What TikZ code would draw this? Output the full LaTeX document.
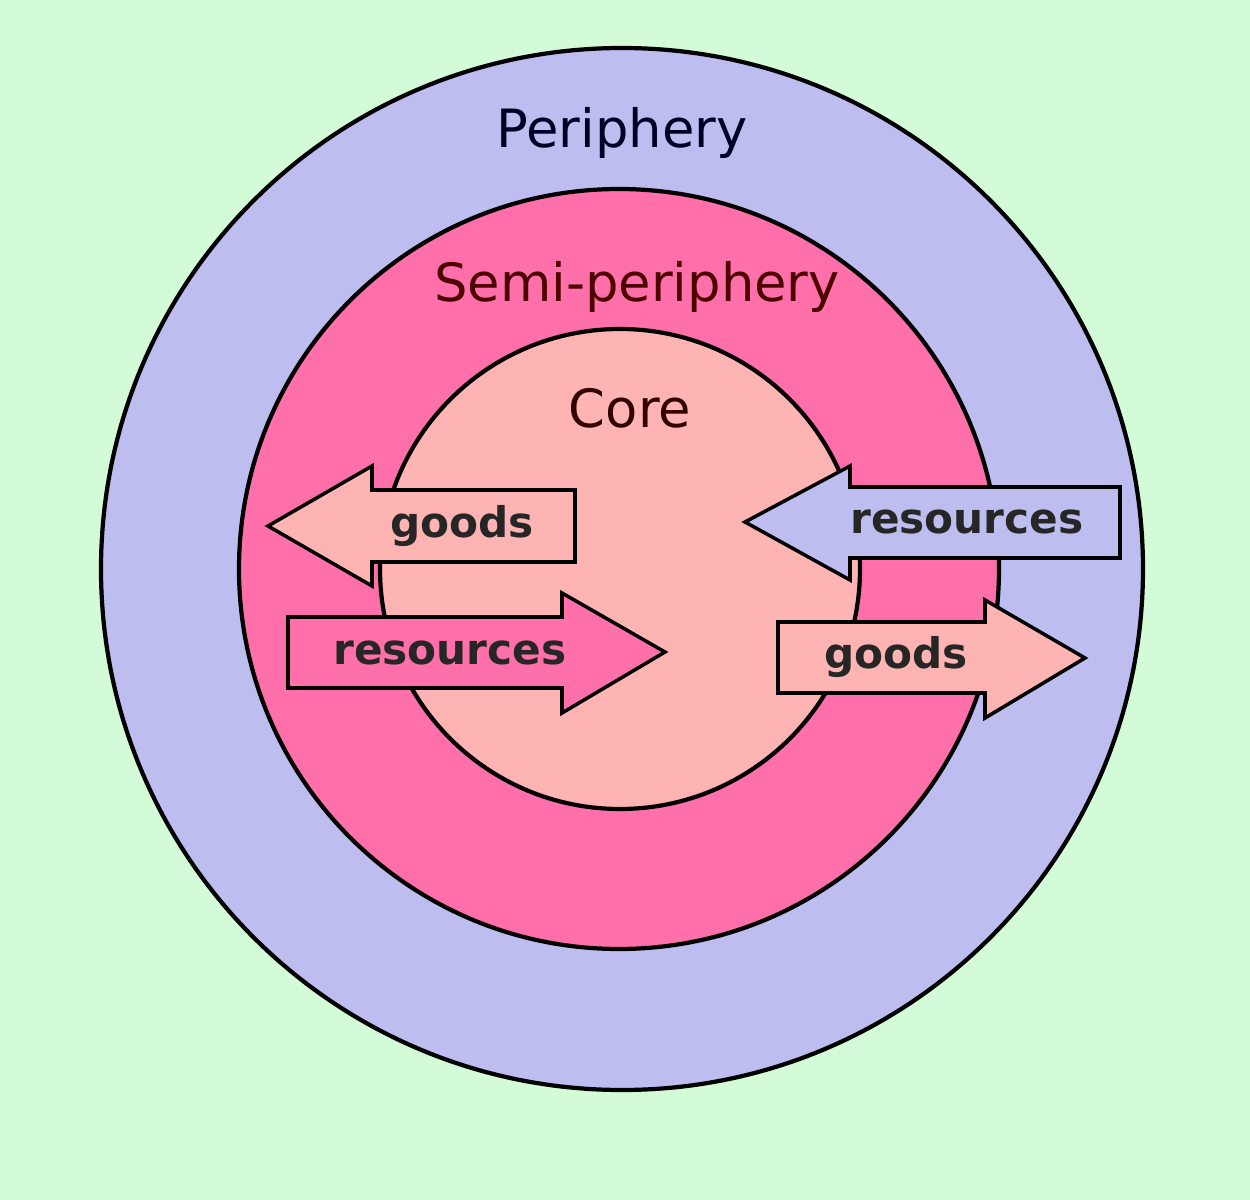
\documentclass[tikz,border=0pt]{standalone}
\usepackage{fontspec}
\setmainfont{DejaVu Sans}
\begin{document}
\begin{tikzpicture}[x=0.01cm,y=-0.01cm,
  ring/.style={draw=black,line width=1.2pt},
  arr/.style={draw=black,line width=1pt},
  lab/.style={font=\fontsize{12}{14}\selectfont\bfseries, text=black!85}]
\definecolor{bg}{HTML}{D3FBD7}
\definecolor{peri}{HTML}{BDBDF0}
\definecolor{semi}{HTML}{FF6FAA}
\definecolor{core}{HTML}{FFB4B4}
\fill[bg] (0,0) rectangle (1250,1200);
\useasboundingbox (0,0) rectangle (1250,1200);
\draw[ring,fill=peri] (622,569) circle (521);
\draw[ring,fill=semi] (619,569) circle (380);
\draw[ring,fill=core] (620,569) circle (240);
\node[font=\fontsize{15}{18}\selectfont,text=black!85!blue] (p) at (622,133) {Periphery};
\node[font=\fontsize{15}{18}\selectfont,text=black!70!red] (s) at (637,287) {Semi-periphery};
\node[font=\fontsize{15}{18}\selectfont,text=black!80!red] (c) at (630,408) {Core};
% goods left
\draw[arr,fill=core] (268,526) -- (372,466) -- (372,490) -- (575,490) -- (575,562) -- (372,562) -- (372,586) -- cycle;
\node[lab] (g1) at (462,526) {goods};
% resources right pink
\draw[arr,fill=semi] (665,652) -- (562,593) -- (562,617) -- (288,617) -- (288,688) -- (562,688) -- (562,713) -- cycle;
\node[lab] (r1) at (450,653) {resources};
% resources left blue
\draw[arr,fill=peri] (745,522) -- (850,466) -- (850,487) -- (1120,487) -- (1120,558) -- (850,558) -- (850,580) -- cycle;
\node[lab] (r2) at (967,522) {resources};
% goods right
\draw[arr,fill=core] (1085,658) -- (985,600) -- (985,622) -- (778,622) -- (778,693) -- (985,693) -- (985,718) -- cycle;
\node[lab] (g2) at (896,657) {goods};
\end{tikzpicture}
\end{document}
